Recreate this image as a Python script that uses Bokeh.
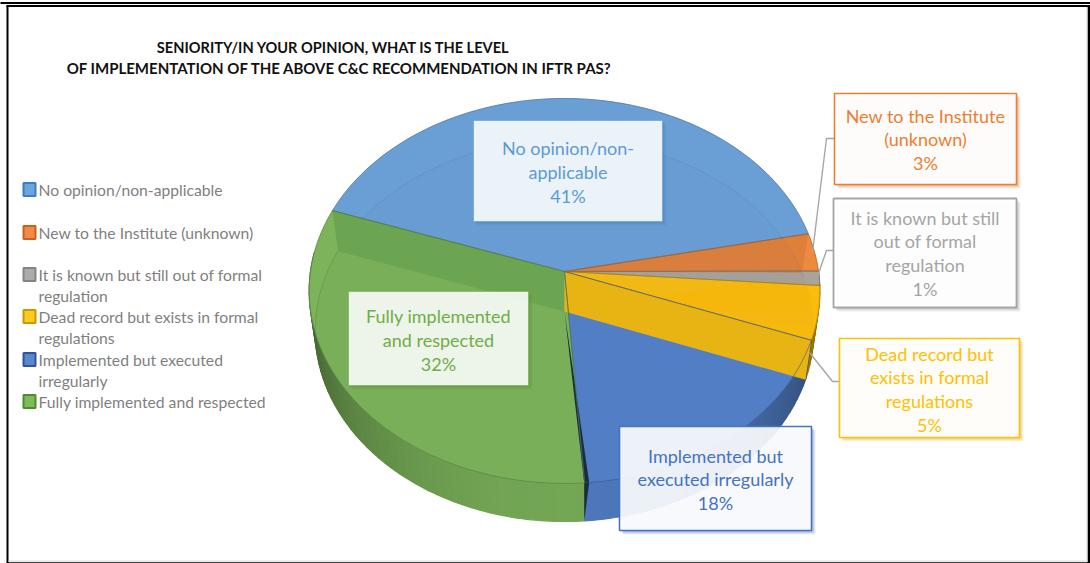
import math
from bokeh.plotting import figure
from bokeh.models import Range1d
from bokeh.core.properties import value
from bokeh.embed import file_html
from bokeh.resources import INLINE

title_lines = ["SENIORITY/IN YOUR OPINION, WHAT IS THE LEVEL",
               "OF IMPLEMENTATION OF THE ABOVE C&C RECOMMENDATION IN IFTR PAS?"]
categories = ["No opinion/non-applicable", "New to the Institute (unknown)",
              "It is known but still out of formal regulation",
              "Dead record but exists in formal regulations",
              "Implemented but executed irregularly",
              "Fully implemented and respected"]
shares = [41.4, 3.2, 1.2, 4.5, 18.2, 31.5]
share_labels = ["41%", "3%", "1%", "5%", "18%", "32%"]
legend_lines = [["No opinion/non-applicable"], ["New to the Institute (unknown)"],
                ["It is known but still out of formal", "regulation"],
                ["Dead record but exists in formal", "regulations"],
                ["Implemented but executed", "irregularly"],
                ["Fully implemented and respected"]]
label_lines = [["No opinion/non-", "applicable"], ["New to the Institute", "(unknown)"],
               ["It is known but still", "out of formal", "regulation"],
               ["Dead record but", "exists in formal", "regulations"],
               ["Implemented but", "executed irregularly"],
               ["Fully implemented", "and respected"]]

top_cols = ["#6A9FD6", "#EE8A3F", "#A9A39C", "#FBBC0C", "#5380C8", "#7CB35B"]
text_cols = ["#5B9BD5", "#ED7D31", "#A5A5A5", "#FFC000", "#4472C4", "#70AD47"]
leg_edge = ["#3A7FBF", "#C9601F", "#848484", "#C99A00", "#2F5597", "#4F8A33"]
leg_fill = ["#6AA5DC", "#F08A47", "#ABABAB", "#FFC91F", "#5B86D0", "#7DBB5B"]

START = 289.3
CX, K = 565.0, 0.101
TOP = dict(cy=272.0, a=254.0, b=190.5)
BOT = dict(cy=312.0, a=248.0, b=188.8)
BOT_CROSS = 77.9  # where the bottom rim passes behind the horizontal through the apex

FONT = "Lato"
p = figure(width=1090, height=563, output_backend="svg", toolbar_location=None,
           x_range=Range1d(1, 1091), y_range=Range1d(564, 1),
           min_border=0, outline_line_color=None, background_fill_color="white",
           border_fill_color="white", x_axis_type=None, y_axis_type=None)
p.grid.visible = False


def pt(deg, disc, r=1.0):
    th = math.radians(deg)
    u, v = r * math.sin(th), r * math.cos(th)
    w = 1 / (1 + K * v)
    return CX + disc["a"] * u * w, disc["cy"] - disc["b"] * v * w


def arc(a0, a1, disc, step=1.0):
    n = max(2, int(abs(a1 - a0) / step) + 1)
    return [pt(a0 + (a1 - a0) * i / (n - 1), disc) for i in range(n)]


def shade(col, f):
    r, g, b = (int(col[i:i + 2], 16) for i in (1, 3, 5))
    return "#%02x%02x%02x" % (int(r * f), int(g * f), int(b * f))


def poly(pts, **kw):
    p.patch([q[0] for q in pts], [q[1] for q in pts], **kw)


def path(pts, **kw):
    p.line([q[0] for q in pts], [q[1] for q in pts], **kw)


# slice boundaries, clockwise from the blue/green boundary
edges = [START]
for s in shares:
    edges.append(edges[-1] + s * 3.6)
slices = list(zip(edges[:-1], edges[1:]))

# outer wall, shaded by direction
for col, (a0, a1) in zip(top_cols, slices):
    d = a0
    while d < a1:
        e = min(d + 2.0, a1)
        for off in (0, 360):
            m = (d + e) / 2 - off
            if 90 <= m <= 275:
                t = max(0.0, math.cos(math.radians(m - 180))) ** 1.3
                c = shade(col, 0.52 + 0.43 * t)
                poly(arc(d - off, e - off, TOP, 1) + arc(e - off, d - off, BOT, 1),
                     fill_color=c, line_color=c, line_width=1.2)
        d = e

# top surface
apex_t, apex_b = (CX, TOP["cy"]), (CX, BOT["cy"])
for col, (a0, a1) in zip(top_cols, slices):
    poly([apex_t] + arc(a0, a1, TOP), fill_color=col, line_color=col, line_width=0.5)

# bottom surface seen through the translucent top
for col, (a0, a1) in zip(top_cols, slices):
    poly([apex_b] + arc(a0, a1, BOT), fill_color=shade(col, 0.7), fill_alpha=0.05, line_color=None)
path(arc(START - 360, START + 150 - 360, BOT), line_color="#4A78A8", line_alpha=0.22, line_width=1)
path(arc(START - 45, START, BOT), line_color="#4A7A30", line_alpha=0.35, line_width=1)
# the orange slice is visibly duller where the bottom shows through
oa = slices[1][0]
poly([apex_t, pt(oa, TOP), pt(BOT_CROSS, BOT)], fill_color="#C97435", fill_alpha=0.45, line_color=None)

# inner walls seen through the top
g0 = edges[0]
poly([apex_t, pt(g0, TOP), pt(g0, BOT), apex_b], fill_color="#6CA552", line_color=None)
y1 = edges[4]
poly([apex_t, pt(y1, TOP), pt(y1, BOT), apex_b], fill_color="#E8B414", line_color=None)
f = edges[5]
ft, fb = pt(f, TOP), pt(f, BOT)
poly([apex_b, (ft[0] - 0.5, ft[1]), fb, (ft[0] + 4.5, ft[1])], fill_color="#1B2C3B", line_color=None)

# slice outlines
for col, (a0, a1) in zip(top_cols, slices):
    poly([apex_t] + arc(a0, a1, TOP), fill_alpha=0, line_color=shade(col, 0.68), line_alpha=0.75, line_width=0.8)


def line_text(x, y, txt, color, size, align="center", style="normal"):
    p.text([x], [y], text=[txt], text_color=color, text_font=value(FONT), text_font_size=size,
           text_align=align, text_baseline="middle", text_font_style=style)


# leader lines
for pts in ([(835, 139), (827, 139), (813, 253)],
            [(834, 251), (827, 251), (818, 277)],
            [(840, 382), (833, 382), (810, 353)]):
    path(pts, line_color="#A6A6A6", line_width=1.4)

# data label boxes: x0, x1, y0, y1, fill alpha, border width, first line y, line step
boxes = [(474, 663, 121, 222, 0.88, 0.6, 148, 24),
         (835, 1017, 94, 185, 0.94, 1.6, 116, 23.5),
         (834, 1017, 199, 308, 0.94, 1.8, 218, 23.7),
         (840, 1020, 339, 438, 0.94, 1.6, 354, 23.7),
         (620, 812, 427, 531, 0.90, 1.6, 456, 23.5),
         (349, 529, 292, 386, 0.88, 0.6, 316, 24)]
for i, (x0, x1, y0, y1, al, bw, ly, st) in enumerate(boxes):
    for off, sa in ((4, 0.10), (3, 0.14), (2, 0.18)):
        p.quad(left=[x0 + off], right=[x1 + off], top=[y0 + off], bottom=[y1 + off],
               fill_color=shade(text_cols[i], 0.8), fill_alpha=sa, line_color=None)
    p.quad(left=[x0], right=[x1], top=[y0], bottom=[y1], fill_color="white", fill_alpha=al,
           line_color=text_cols[i], line_width=bw)
    for j, t in enumerate(label_lines[i] + [share_labels[i]]):
        line_text((x0 + x1) / 2, ly + j * st, t, text_cols[i], "18px")

# legend
leg_y = [190, 233, 275, 317, 360, 402]
for i, y in enumerate(leg_y):
    p.quad(left=[24], right=[36], top=[y - 6.5], bottom=[y + 6.5], fill_color=leg_fill[i],
           line_color=leg_edge[i], line_width=2)
    for j, t in enumerate(legend_lines[i]):
        line_text(39, y + j * 21, t, "#7F7F7F", "15.7px", "left")

# title
line_text(334, 48, title_lines[0], "#111111", "14.6px", "center", "bold")
line_text(340, 68, title_lines[1], "#111111", "15px", "center", "bold")

# frame
for pts, w, c in (([(0, 3.5), (1092, 3.5)], 2, "black"),
                  ([(7, 6.5), (1092, 6.5)], 2, "black"),
                  ([(8, 6), (8, 565)], 2, "black"),
                  ([(1089.5, 6), (1089.5, 565)], 3, "black"),
                  ([(7, 563.5), (1092, 563.5)], 1.5, "black"),
                  ([(1087.5, 8), (1087.5, 562)], 1, "#DDDDDD"),
                  ([(9, 561.5), (1088, 561.5)], 1.2, "#DDDDDD")):
    path(pts, line_color=c, line_width=w)

open("out.html", "w").write(file_html(p, INLINE))
